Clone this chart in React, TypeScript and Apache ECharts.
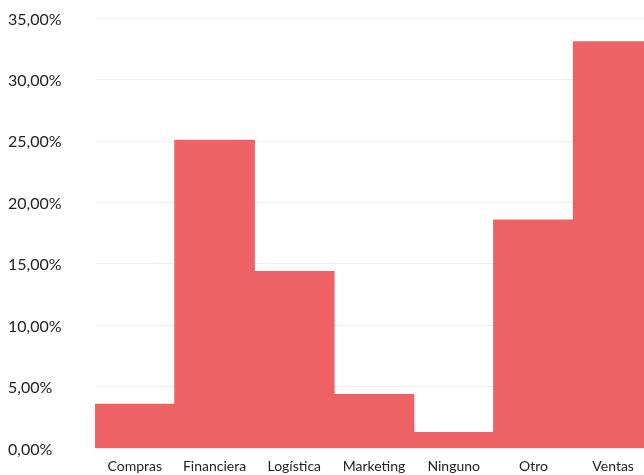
import React, { useEffect, useRef } from "react";
import * as echarts from "echarts";

const categories = ["Compras", "Financiera", "Logística", "Marketing", "Ninguno", "Otro", "Ventas"];
const values = [3.6, 25.1, 14.4, 4.4, 1.3, 18.6, 33.1];
const yMax = 35;
const yInterval = 5;

export default function App() {
  const ref = useRef<HTMLDivElement>(null);
  useEffect(() => {
    if (!ref.current) return;
    const chart = echarts.init(ref.current, null, { renderer: "svg" });
    chart.setOption({
      animation: false,
      grid: { left: 95, right: 0, top: 18, bottom: 27, containLabel: false },
      xAxis: {
        type: "category",
        data: categories,
        axisLine: { show: false },
        axisTick: { show: false },
        axisLabel: { color: "#222", fontFamily: "Lato", fontSize: 14, margin: 10, interval: 0 },
      },
      yAxis: {
        type: "value",
        min: 0,
        max: yMax,
        interval: yInterval,
        axisLine: { show: false },
        axisTick: { show: false },
        splitLine: { lineStyle: { color: "#f9e9ec", width: 1 } },
        axisLabel: {
          color: "#222",
          fontFamily: "Lato",
          fontSize: 16,
          align: "left",
          margin: 87,
          formatter: (v: number) => v.toFixed(2).replace(".", ",") + "%",
        },
      },
      series: [
        {
          type: "bar",
          data: values,
          barWidth: 80.6,
          itemStyle: { color: "#ee6266" },
        },
      ],
    });
    return () => chart.dispose();
  }, []);
  return (
    <div style={{ position: "fixed", left: 0, top: 0, width: 644, height: 475, overflow: "hidden" }}>
      <div ref={ref} style={{ width: 653, height: 475 }} />
    </div>
  );
}
